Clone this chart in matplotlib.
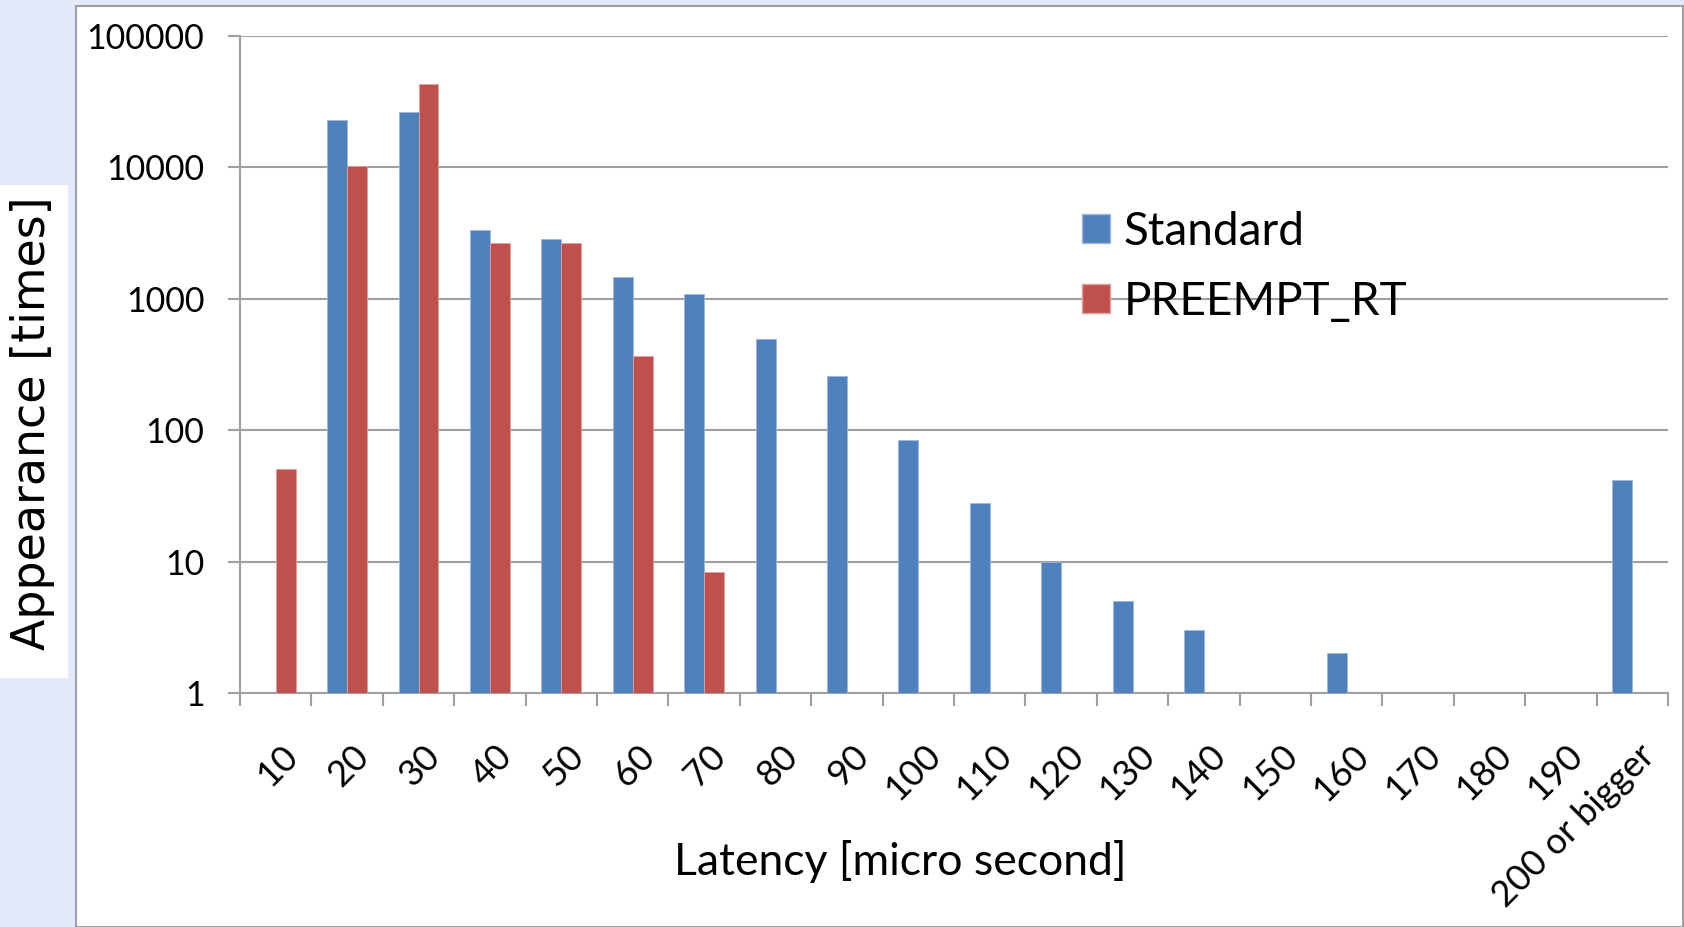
import numpy as np
import matplotlib
matplotlib.use("Agg")
import matplotlib.pyplot as plt
from matplotlib.patches import Rectangle, Patch
from matplotlib.ticker import FixedLocator, NullFormatter
import matplotlib.transforms as mtransforms

# latency histogram, log scale
categories = ["10", "20", "30", "40", "50", "60", "70", "80", "90", "100",
              "110", "120", "130", "140", "150", "160", "170", "180", "190",
              "200 or bigger"]
standard = [np.nan, 23100, 26400, 3340, 2870, 1460, 1080, 492, 260, 84,
            28, 10, 5, 3, np.nan, 2, np.nan, np.nan, np.nan, 42]
preempt_rt = [51, 10300, 43000, 2670, 2670, 364, 8.4, np.nan, np.nan, np.nan,
              np.nan, np.nan, np.nan, np.nan, np.nan, np.nan, np.nan, np.nan,
              np.nan, np.nan]
y_ticks = [1, 10, 100, 1000, 10000, 100000]

BLUE = "#4F81BD"
RED = "#C0504D"
GRID = "#a0a0a0"
LAVENDER = "#e4e8fb"

plt.rcParams["font.family"] = ["Lato", "DejaVu Sans"]

W, H = 1684, 927
fig = plt.figure(figsize=(W / 100, H / 100), dpi=100, facecolor=LAVENDER)

# slide pieces: white chart frame and the white box holding the y label
fig.patches.append(Rectangle((76 / W, 0), (1683 - 76) / W, 1 - 6 / H,
                             transform=fig.transFigure, facecolor="white",
                             edgecolor=GRID, linewidth=1.5, zorder=-10))
fig.patches.append(Rectangle((0, 1 - 678 / H), 68 / W, (678 - 185) / H,
                             transform=fig.transFigure, facecolor="white",
                             edgecolor="none", zorder=-10))

ax = fig.add_axes([240 / W, 1 - 693 / H, (1668 - 240) / W, (693 - 36) / H])
ax.set_facecolor("none")

x = np.arange(len(categories))
bw = 0.28
ax.bar(x - bw / 2, standard, bw, color=BLUE, edgecolor="#9db8dc",
       linewidth=0.6, label="Standard", zorder=3)
ax.bar(x + bw / 2, preempt_rt, bw, color=RED, edgecolor="#e0a09e",
       linewidth=0.6, label="PREEMPT_RT", zorder=3)

ax.set_yscale("log")
ax.set_ylim(1, 100000)
ax.set_xlim(-0.5, len(categories) - 0.5)
ax.yaxis.set_major_locator(FixedLocator(y_ticks))
ax.yaxis.set_minor_locator(FixedLocator([]))
ax.set_yticklabels([str(v) for v in y_ticks])
ax.yaxis.grid(True, color=GRID, linewidth=1.5, zorder=1)
ax.set_axisbelow(True)

ax.set_xticks(x)
ax.set_xticklabels(categories, rotation=45, ha="right", va="top",
                   rotation_mode="anchor")
ax.set_xticks(np.arange(len(categories) + 1) - 0.5, minor=True)
ax.xaxis.set_minor_formatter(NullFormatter())
ax.tick_params(axis="x", which="major", length=0, pad=33, labelsize=26)
ax.tick_params(axis="x", which="minor", length=9.5, width=1.5, color=GRID,
               direction="out")
ax.tick_params(axis="y", which="major", length=8.6, width=1.5, color=GRID,
               direction="out", pad=17, labelsize=24.5)
for lbl in ax.get_xticklabels():
    lbl.set_transform(lbl.get_transform() +
                      mtransforms.ScaledTranslation(5 / 100, 0, fig.dpi_scale_trans))

for side in ("top", "right"):
    ax.spines[side].set_visible(False)
for side in ("left", "bottom"):
    ax.spines[side].set_color(GRID)
    ax.spines[side].set_linewidth(1.5)

handles = [Patch(facecolor=BLUE, edgecolor="#9db8dc"),
           Patch(facecolor=RED, edgecolor="#e0a09e")]
fig.legend(handles, ["Standard", "PREEMPT_RT"], loc="upper left",
           bbox_to_anchor=(1082 / W, 1 - 211 / H), frameon=False,
           fontsize=33, handlelength=0.6, handleheight=0.6,
           handletextpad=0.3, labelspacing=0.6, borderpad=0,
           borderaxespad=0)

fig.text(900 / W, 1 - 875 / H, "Latency [micro second]", ha="center",
         va="baseline", fontsize=32)
# the slide's y label is drawn wide, so a wider face fits it better
fig.text(33 / W, 1 - 423 / H, "Appearance [times]", ha="center",
         va="center", rotation=90, fontsize=33, family="DejaVu Sans")

fig.savefig("out.png", dpi=100, facecolor=fig.get_facecolor())
